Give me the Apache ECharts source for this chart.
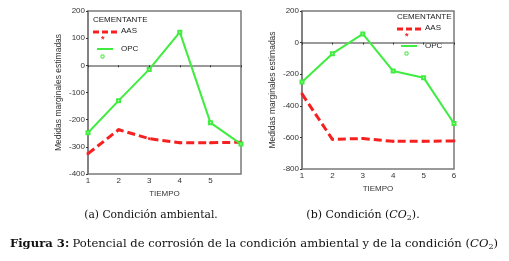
<!DOCTYPE html>
<html><head><meta charset="utf-8">
<script src="https://cdn.jsdelivr.net/npm/echarts@6/dist/echarts.min.js"></script>
<style>html,body{margin:0;padding:0;background:#fff}#c{width:509px;height:261px}</style>
</head><body><div id="c"></div>
<script>
const tiempo = ['1','2','3','4','5','6'];
const ambAAS = [-325, -237, -270, -285, -285, -283];
const ambOPC = [-248, -130, -15, 122, -211, -290];
const co2AAS = [-325, -612, -607, -625, -625, -622];
const co2OPC = [-250, -70, 55, -180, -222, -512];
const yTicksA = [-400, 200, 100];
const yTicksB = [-800, 200, 200];
const RED = '#f52020', GREEN = '#3fec3f';
const AX = '#7a7a7a';
const sans = 'Liberation Sans';
const serif = 'DejaVu Serif';
const star = 'path://M0,-5L0,5M-5,0L5,0M-3.5,-3.5L3.5,3.5M-3.5,3.5L3.5,-3.5';

function xAx(gi, hideLast){
  return {gridIndex: gi, type: 'category', data: tiempo, boundaryGap: false,
    name: 'TIEMPO', nameLocation: 'middle', nameGap: 12,
    nameTextStyle: {fontFamily: sans, fontSize: 8, color: '#333'},
    axisLine: {lineStyle: {color: AX, width: 1.5}},
    axisTick: {show: true, length: 2, lineStyle: {color: '#333'}},
    axisLabel: {fontFamily: sans, fontSize: 8, color: '#333', margin: 3,
      formatter: (v, i) => (hideLast && i === tiempo.length - 1) ? '' : v},
    splitLine: {show: false}};
}
function yAx(gi, t){
  return {gridIndex: gi, type: 'value', min: t[0], max: t[1], interval: t[2],
    name: 'Medidas marginales estimadas', nameLocation: 'middle', nameGap: 25,
    nameTextStyle: {fontFamily: sans, fontSize: 8.5, color: '#333'},
    axisLine: {show: true, lineStyle: {color: AX, width: 1.5}},
    axisTick: {show: true, length: 2, lineStyle: {color: '#333'}},
    axisLabel: {fontFamily: sans, fontSize: 8, color: '#333', margin: 3},
    splitLine: {show: false}};
}
function ser(gi, data, isAAS){
  return {type: 'line', xAxisIndex: gi, yAxisIndex: gi, data: data,
    symbol: isAAS ? star : 'emptyRect', symbolSize: 3,
    itemStyle: {color: isAAS ? RED : GREEN, borderColor: isAAS ? RED : GREEN, borderWidth: 1},
    lineStyle: isAAS ? {color: RED, width: 3, type: [8, 4]} : {color: GREEN, width: 2},
    animation: false};
}
function legend(x, y){
  return [
    {type: 'text', x: x, y: y, style: {text: 'CEMENTANTE', font: '8px ' + sans, fill: '#222'}},
    {type: 'line', shape: {x1: x, y1: y + 16, x2: x + 24, y2: y + 16}, style: {stroke: RED, lineWidth: 3, lineDash: [6, 3]}},
    {type: 'text', x: x + 28, y: y + 11, style: {text: 'AAS', font: '8px ' + sans, fill: '#222'}},
    {type: 'text', x: x + 8, y: y + 19, style: {text: '*', font: 'bold 9px ' + sans, fill: RED}},
    {type: 'line', shape: {x1: x + 4, y1: y + 33, x2: x + 20, y2: y + 33}, style: {stroke: GREEN, lineWidth: 2}},
    {type: 'text', x: x + 28, y: y + 29, style: {text: 'OPC', font: '8px ' + sans, fill: '#222'}},
    {type: 'rect', shape: {x: x + 8, y: y + 39, width: 3, height: 3}, style: {stroke: GREEN, fill: 'none', lineWidth: 1}}
  ];
}
const chart = echarts.init(document.getElementById('c'), null, {renderer: 'canvas'});
chart.setOption({
  animation: false,
  backgroundColor: '#fff',
  grid: [
    {left: 88, top: 11, width: 153, height: 163, show: true, borderColor: AX, borderWidth: 1.5, backgroundColor: 'transparent'},
    {left: 302, top: 11, width: 152, height: 158, show: true, borderColor: AX, borderWidth: 1.5, backgroundColor: 'transparent'}
  ],
  xAxis: [xAx(0, true), xAx(1, false)],
  yAxis: [yAx(0, yTicksA), yAx(1, yTicksB)],
  series: [ser(0, ambAAS, true), ser(0, ambOPC, false), ser(1, co2AAS, true), ser(1, co2OPC, false)],
  graphic: [
    ...legend(93, 16),
    ...legend(397, 13),
    {type: 'text', x: 151, y: 215, style: {
      text: '(a) Condición ambiental.', font: '10.7px ' + serif, fill: '#111', align: 'center', verticalAlign: 'middle'}},
    {type: 'text', x: 363, y: 215, style: {
      text: '{n|(b) Condición (}{i|CO}{s|2}{n|).}', align: 'center', verticalAlign: 'middle',
      rich: {n: {font: '11px ' + serif, fill: '#111'}, i: {font: 'italic 11px ' + serif, fill: '#111'}, s: {font: '8px ' + serif, fill: '#111', padding: [6, 0, 0, 0]}}}},
    {type: 'text', x: 254, y: 244, style: {
      align: 'center', verticalAlign: 'middle',
      text: '{b|Figura 3:} {n|Potencial de corrosión de la condición ambiental y de la condición (}{i|CO}{s|2}{n|)}',
      rich: {b: {font: 'bold 11.6px ' + serif, fill: '#111'}, n: {font: '11.6px ' + serif, fill: '#111'}, i: {font: 'italic 11.6px ' + serif, fill: '#111'}, s: {font: '8px ' + serif, fill: '#111', padding: [6, 0, 0, 0]}}}}
  ]
});
</script></body></html>
